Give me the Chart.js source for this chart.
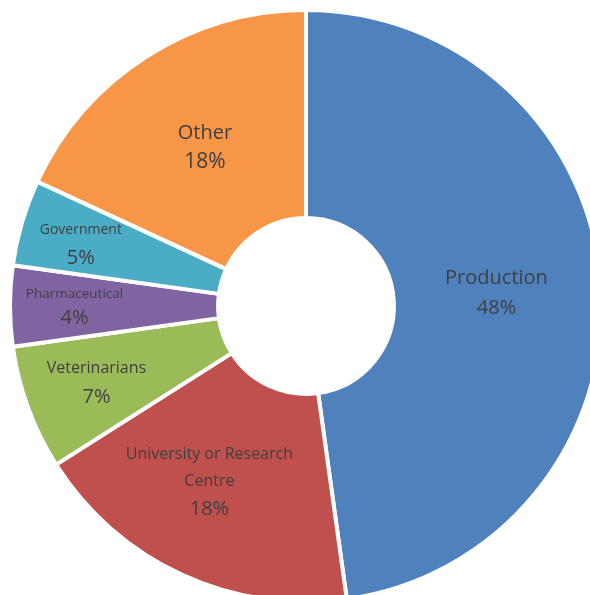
<!DOCTYPE html>
<html>
<head>
<meta charset="utf-8">
<script src="https://cdn.jsdelivr.net/npm/chart.js@4"></script>
<style>
  html, body { margin: 0; padding: 0; background: #ffffff; overflow: hidden; width: 590px; height: 595px; }
  #c { position: absolute; left: 0; top: 0; }
</style>
</head>
<body>
<canvas id="c" width="612" height="612"></canvas>
<script>
const categories = ["Production", ["University or Research", "Centre"], "Veterinarians", "Pharmaceutical", "Government", "Other"];
const shares = [47.8, 18.2, 6.8, 4.4, 4.7, 18.1];
const sliceColors = ["#4F81BD", "#C0504D", "#9BBB59", "#8064A2", "#4BACC6", "#F79646"];

const total = shares.reduce((a, b) => a + b, 0);

const sliceLabels = {
  id: 'sliceLabels',
  afterDatasetsDraw(chart, args, opts) {
    const ctx = chart.ctx;
    const meta = chart.getDatasetMeta(0);
    meta.data.forEach((arc, i) => {
      const p = arc.getProps(['x', 'y', 'startAngle', 'endAngle', 'innerRadius', 'outerRadius'], true);
      const cfg = opts.items[i];
      const mid = (p.startAngle + p.endAngle) / 2 + (cfg.dAngle || 0) * Math.PI / 180;
      const r = p.innerRadius + cfg.f * (p.outerRadius - p.innerRadius);
      const cx = p.x + Math.cos(mid) * r;
      const cy = p.y + Math.sin(mid) * r;
      const nameLines = [].concat(chart.data.labels[i]);
      const pct = Math.round(chart.data.datasets[0].data[i] / total * 100) + '%';
      const totalH = (nameLines.length - 1) * cfg.lh + cfg.gap;
      let y = cy - totalH / 2;
      ctx.save();
      ctx.fillStyle = opts.color;
      ctx.textAlign = 'center';
      ctx.textBaseline = 'middle';
      ctx.font = cfg.nameSize + 'px ' + opts.family;
      nameLines.forEach((ln, k) => {
        ctx.fillText(ln, cx, y + k * cfg.lh);
      });
      ctx.font = cfg.pctSize + 'px ' + opts.family;
      ctx.fillText(pct, cx, y + (nameLines.length - 1) * cfg.lh + cfg.gap);
      ctx.restore();
    });
  }
};

new Chart(document.getElementById('c'), {
  type: 'doughnut',
  data: {
    labels: categories,
    datasets: [{
      data: shares,
      backgroundColor: sliceColors,
      borderColor: '#ffffff',
      borderWidth: 4,
      hoverOffset: 0
    }]
  },
  options: {
    responsive: false,
    animation: false,
    devicePixelRatio: 1,
    cutout: '29.7%',
    layout: { padding: 8 },
    plugins: {
      legend: { display: false },
      tooltip: { enabled: false },
      sliceLabels: {
        color: '#404040',
        family: '"Open Sans", sans-serif',
        items: [
          { f: 0.495, nameSize: 20, pctSize: 20, lh: 27, gap: 30 },
          { f: 0.54, dAngle: 4, nameSize: 16, pctSize: 20, lh: 27, gap: 28 },
          { f: 0.65, nameSize: 16, pctSize: 20, lh: 27, gap: 29 },
          { f: 0.69, nameSize: 13.5, pctSize: 20, lh: 24, gap: 24 },
          { f: 0.70, dAngle: -1, nameSize: 14, pctSize: 20, lh: 28, gap: 28 },
          { f: 0.48, nameSize: 20, pctSize: 21, lh: 29, gap: 29 }
        ]
      }
    }
  },
  plugins: [sliceLabels]
});
</script>
</body>
</html>
